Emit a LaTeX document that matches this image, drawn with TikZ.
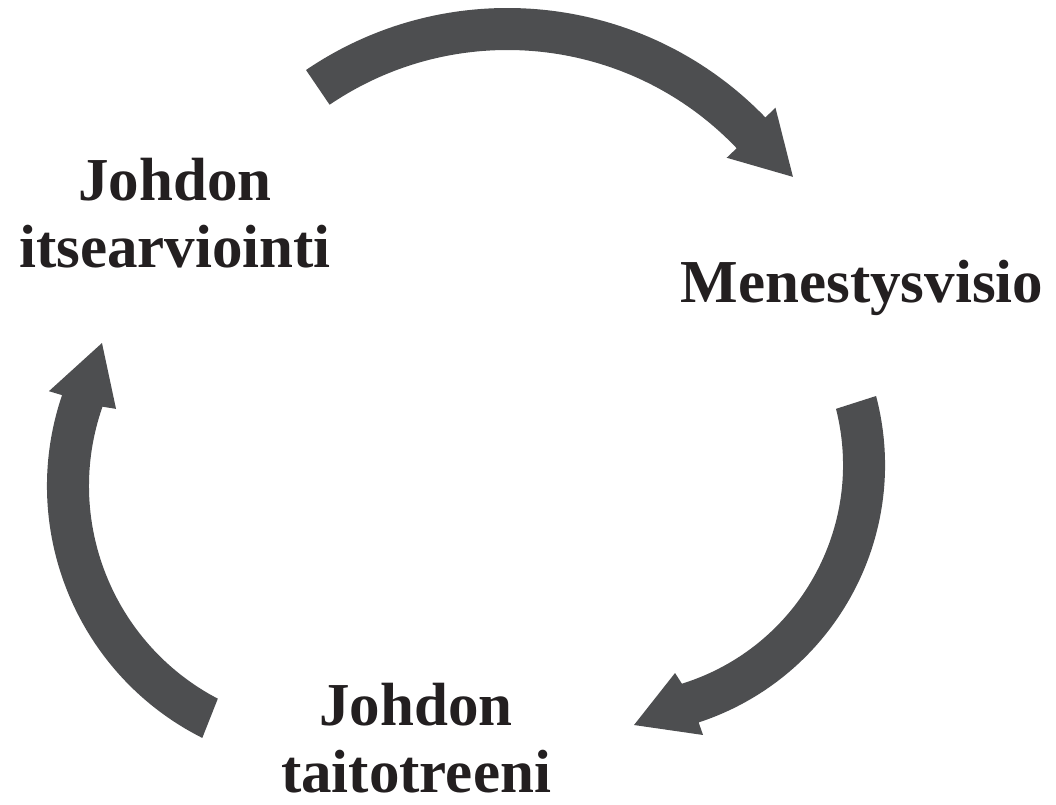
\documentclass[tikz,border=0pt]{standalone}
\usepackage{fontspec}
\setmainfont{Liberation Serif}
\usetikzlibrary{calc}
\definecolor{arrowgray}{HTML}{4D4E50}
\definecolor{textblack}{HTML}{231F20}
\begin{document}
\begin{tikzpicture}[x=1pt,y=1pt,
  steplabel/.style={font=\bfseries\fontsize{61}{67}\selectfont, text=textblack, align=center, inner sep=0pt, anchor=base},
  cyclearrow/.style={fill=arrowgray, draw=none}]
\useasboundingbox (0,0) rectangle (1056,804);
\node[steplabel] (itse) at (175,536) {Johdon\\itsearviointi};
\node[steplabel] (vision) at (862,501) {Menestysvisio};
\node[steplabel] (taito) at (416,12) {Johdon\\taitotreeni};
\coordinate (cT) at (507.5,437.5);
\coordinate (cR) at (614,339);
\coordinate (cL) at (329,318);
% top arrow: itsearviointi -> Menestysvisio
\fill[cyclearrow] ($(cT)+(124.2:358.5pt)$) arc[start angle=124.2,end angle=44,radius=358.5pt]
  -- ($(cT)+(44:372.5pt)$) -- ($(cT)+(33.6:342.7pt)$) -- ($(cT)+(43.6:302.7pt)$)
  -- ($(cT)+(43.6:316.5pt)$) arc[start angle=43.6,end angle=124.2,radius=316.5pt] -- cycle;
% right arrow: Menestysvisio -> taitotreeni
\fill[cyclearrow] ($(cR)+(14.75:271pt)$) arc[start angle=14.75,end angle=-71.8,radius=271pt]
  -- ($(cR)+(-71.75:284.3pt)$) -- ($(cR)+(-85.6:260.8pt)$) -- ($(cR)+(-73.65:216.8pt)$)
  -- ($(cR)+(-72.75:229pt)$) arc[start angle=-72.75,end angle=14.2,radius=229pt] -- cycle;
% left arrow: taitotreeni -> itsearviointi
\fill[cyclearrow] ($(cL)+(243.3:282pt)$) arc[start angle=243.3,end angle=161.2,radius=282pt]
  -- ($(cL)+(161.3:295.7pt)$) -- ($(cL)+(147.8:268.3pt)$) -- ($(cL)+(160.1:226.5pt)$)
  -- ($(cL)+(160.7:240pt)$) arc[start angle=160.7,end angle=242.4,radius=240pt] -- cycle;
\end{tikzpicture}
\end{document}
